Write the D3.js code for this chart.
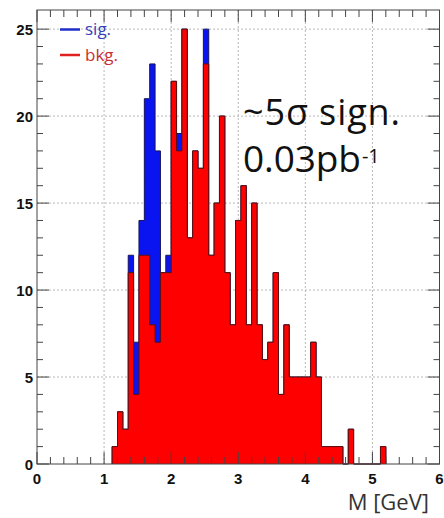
<!DOCTYPE html>
<html>
<head>
<meta charset="utf-8">
<script src="https://cdn.jsdelivr.net/npm/d3@7"></script>
<style>
  body { margin: 0; background: #fff; }
  svg { display: block; }
</style>
</head>
<body>
<div id="chart"></div>
<script>
// histogram: 0.08 GeV bins, first filled bin starts at 1.12 GeV
const binWidth = 0.08
const firstBinLow = 1.12
const bkgCounts = [1, 3, 2, 11, 4, 12, 12, 8, 7, 11, 11, 22, 18, 25, 13, 18, 17, 23, 12, 15,
  20, 11, 8, 14, 16, 8, 15, 8, 6, 7, 11, 4, 8, 5, 5, 5, 5, 7, 5, 1,
  1, 1, 1, 0, 2, 0, 0, 0, 0, 0, 1]
const sigCounts = [0, 0, 0, 1, 3, 2, 9, 15, 11, 0, 1, 0, 1, 0, 0, 0, 0, 2, 0, 0,
  0, 0, 0, 0, 0, 0, 0, 0, 0, 0, 0, 0, 0, 0, 0, 0, 0, 0, 0, 0,
  0, 0, 0, 0, 0, 0, 0, 0, 0, 0, 0]
const xTicks = [0, 1, 2, 3, 4, 5, 6]
const yTicks = [0, 5, 10, 15, 20, 25]
const legendItems = [{label: 'sig.', line: '#1f2fc8', text: '#3340b8'},
  {label: 'bkg.', line: '#e02020', text: '#c83030'}]

const width = 444, height = 518
const frame = {left: 37, right: 439.5, top: 10, bottom: 464}

const svg = d3.select('#chart').append('svg')
  .attr('width', width)
  .attr('height', height)

const xScale = d3.scaleLinear().domain([0, 6]).range([frame.left, frame.right])
const yScale = d3.scaleLinear().domain([0, 26.1]).range([frame.bottom, frame.top])

const bins = bkgCounts.map((b, i) => {
  const x0 = +(firstBinLow + i * binWidth).toFixed(2)
  return {x0: x0, x1: +(x0 + binWidth).toFixed(2), bkg: b, total: b + sigCounts[i]}
})

// grid
const grid = svg.append('g').attr('class', 'grid')
grid.selectAll('.vgrid').data(xTicks.slice(1, -1)).enter().append('line')
  .attr('x1', d => xScale(d)).attr('x2', d => xScale(d))
  .attr('y1', frame.top).attr('y2', frame.bottom)
  .style('stroke', '#b8b8b8').style('stroke-dasharray', '2,2').style('stroke-width', 1)
grid.selectAll('.hgrid').data(yTicks.slice(1)).enter().append('line')
  .attr('x1', frame.left).attr('x2', frame.right)
  .attr('y1', d => yScale(d)).attr('y2', d => yScale(d))
  .style('stroke', '#b8b8b8').style('stroke-dasharray', '2,2').style('stroke-width', 1)

// step points for one series
function steps(key) {
  const pts = [{x: bins[0].x0, y: 0}]
  bins.forEach(d => {
    pts.push({x: d.x0, y: d[key]})
    pts.push({x: d.x1, y: d[key]})
  })
  pts.push({x: bins[bins.length - 1].x1, y: 0})
  return pts
}
const area = d3.area().x(d => xScale(d.x)).y0(yScale(0)).y1(d => yScale(d.y))
const line = d3.line().x(d => xScale(d.x)).y(d => yScale(d.y))

// stacked: total (sig+bkg) first in blue, then bkg in red on top
svg.append('path').datum(steps('total'))
  .attr('d', area)
  .style('fill', '#0a14f0')
svg.append('path').datum(steps('total'))
  .attr('d', line)
  .style('fill', 'none').style('stroke', '#14145a').style('stroke-width', 1)
svg.append('path').datum(steps('bkg'))
  .attr('d', area)
  .style('fill', '#ff0000')
svg.append('path').datum(steps('bkg'))
  .attr('d', line)
  .style('fill', 'none').style('stroke', '#5a1010').style('stroke-width', 1)

// frame
svg.append('rect')
  .attr('x', frame.left).attr('y', frame.top)
  .attr('width', frame.right - frame.left).attr('height', frame.bottom - frame.top)
  .style('fill', 'none').style('stroke', '#444').style('stroke-width', 1)

// ticks on all four sides, pointing inward
const xMinor = d3.range(0, 6.001, 0.2)
const yMinor = d3.range(0, 26, 1)
const ticks = svg.append('g').style('stroke', '#444').style('stroke-width', 1)
xMinor.forEach(v => {
  const len = Math.abs(v - Math.round(v)) < 1e-6 ? 12 : 7
  ticks.append('line').attr('x1', xScale(v)).attr('x2', xScale(v))
    .attr('y1', frame.bottom).attr('y2', frame.bottom - len)
  ticks.append('line').attr('x1', xScale(v)).attr('x2', xScale(v))
    .attr('y1', frame.top).attr('y2', frame.top + len)
})
yMinor.forEach(v => {
  const len = v % 5 === 0 ? 12 : 6
  ticks.append('line').attr('x1', frame.left).attr('x2', frame.left + len)
    .attr('y1', yScale(v)).attr('y2', yScale(v))
  ticks.append('line').attr('x1', frame.right).attr('x2', frame.right - len)
    .attr('y1', yScale(v)).attr('y2', yScale(v))
})

// tick labels
svg.selectAll('.xlab').data(xTicks).enter().append('text')
  .attr('x', d => xScale(d)).attr('y', 484)
  .style('text-anchor', 'middle')
  .style('font-family', 'Liberation Sans, Arial, sans-serif')
  .style('font-weight', 'bold').style('font-size', '15px').style('fill', '#111')
  .text(d => d)
svg.selectAll('.ylab').data(yTicks).enter().append('text')
  .attr('x', 33).attr('y', d => yScale(d) + 5.5)
  .style('text-anchor', 'end')
  .style('font-family', 'Liberation Sans, Arial, sans-serif')
  .style('font-weight', 'bold').style('font-size', '15px').style('fill', '#111')
  .text(d => d)

// axis title
svg.append('text')
  .attr('x', 429).attr('y', 510)
  .style('text-anchor', 'end')
  .style('font-family', '"Open Sans", sans-serif')
  .style('font-size', '22px').style('fill', '#333')
  .text('M [GeV]')

// legend
const legend = svg.append('g')
legendItems.forEach((d, i) => {
  const y = 29.5 + i * 25.5
  legend.append('line').attr('x1', 60).attr('x2', 80).attr('y1', y).attr('y2', y)
    .style('stroke', d.line).style('stroke-width', 2.5)
  legend.append('text').attr('x', 85).attr('y', y + 5.5)
    .style('font-family', '"Open Sans", sans-serif').style('font-size', '17px')
    .style('fill', d.text)
    .text(d.label)
})

// annotation
const note = svg.append('g')
  .style('font-family', '"Open Sans", sans-serif').style('fill', '#111')
note.append('text').attr('x', 243).attr('y', 125)
  .style('font-size', '36px')
  .attr('textLength', 157).attr('lengthAdjust', 'spacing')
  .text('~5σ sign.')
const lumi = note.append('text').attr('x', 243).attr('y', 172)
  .style('font-size', '37px')
lumi.append('tspan').attr('textLength', 118).attr('lengthAdjust', 'spacing').text('0.03pb')
lumi.append('tspan').attr('dx', 1).attr('dy', -9).style('font-size', '20px').text('-1')
</script>
</body>
</html>
